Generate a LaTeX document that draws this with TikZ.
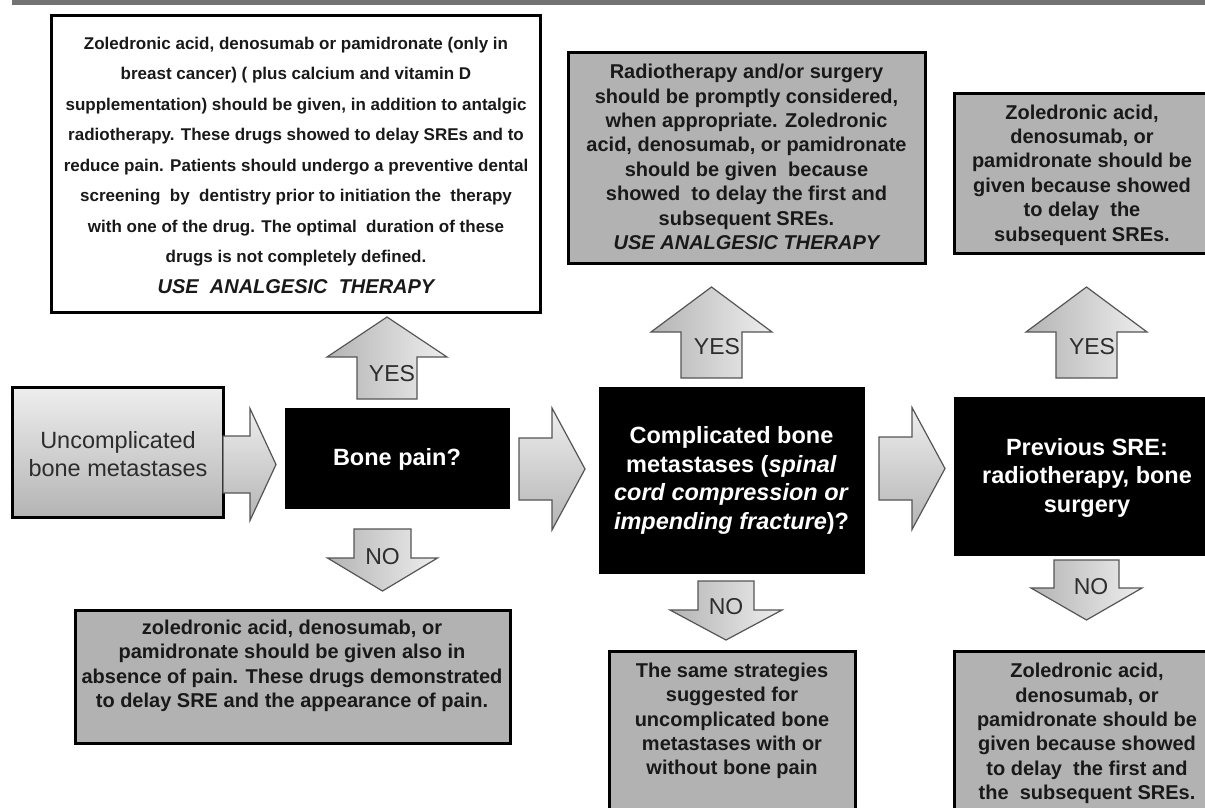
\documentclass[tikz,border=0pt]{standalone}
\usepackage{fontspec}
\setmainfont{Liberation Sans}
\usetikzlibrary{fit}
\definecolor{boxgray}{RGB}{178,178,178}
\definecolor{barcol}{RGB}{115,115,115}
\definecolor{arrline}{RGB}{85,85,85}
\definecolor{arrlight}{RGB}{238,238,238}
\definecolor{arrdark}{RGB}{180,180,180}
\definecolor{txtdark}{RGB}{25,25,25}
\definecolor{txtmid}{RGB}{45,45,45}
% vertical block arrow: x, y shaft end, y head base, y tip, half shaft, half head
\newcommand{\VBlock}[6]{\draw[blockarrow,left color=arrdark,right color=arrlight] (#1-#5,#2) -- (#1-#5,#3) -- (#1-#6,#3) -- (#1,#4) -- (#1+#6,#3) -- (#1+#5,#3) -- (#1+#5,#2) -- cycle;}
% horizontal block arrow: y, x shaft start, x head base, x tip, half shaft, half head
\newcommand{\HBlock}[6]{\draw[blockarrow,top color=arrlight,bottom color=arrdark] (#2,#1-#5) -- (#3,#1-#5) -- (#3,#1-#6) -- (#4,#1) -- (#3,#1+#6) -- (#3,#1+#5) -- (#2,#1+#5) -- cycle;}
\begin{document}
\begin{tikzpicture}[x=1pt,y=-1pt,
  box/.style={draw=black,line width=3pt,inner sep=0pt},
  graybox/.style={box,fill=boxgray},
  blackbox/.style={fill=black,draw=black,line width=1pt,inner sep=0pt},
  blockarrow/.style={draw=arrline,line width=1.2pt,line join=miter},
  smalltxt/.style={inner sep=0pt,align=center,text=txtdark,font=\bfseries\fontsize{17}{30.5}\selectfont},
  boxtxt/.style={inner sep=0pt,align=center,text=txtdark,font=\bfseries\fontsize{20}{24.4}\selectfont},
  whitetxt/.style={inner sep=0pt,align=center,text=white,font=\bfseries\fontsize{23.5}{28.5}\selectfont},
  lbl/.style={inner sep=0pt,text=txtmid,font=\fontsize{23}{23}\selectfont}]
\useasboundingbox (0,0) rectangle (1205,807);
\fill[white] (0,0) rectangle (1205,807);
\fill[barcol] (12,0) rectangle (1205,5);

% ---------- top boxes ----------
\node[box,fill=white,fit={(51,15)(540,312)}] (yes1box) {};
\node[smalltxt] (yes1txt) at (296,165) {Zoledronic acid, denosumab or pamidronate (only in\\
breast cancer) ( plus calcium and vitamin D\\
supplementation) should be given, in addition to antalgic\\
radiotherapy. These drugs showed to delay SREs and to\\
reduce pain. Patients should undergo a preventive dental\\
screening\ \ by\ \ dentistry prior to initiation the\ \ therapy\\
with one of the drug. The optimal\ \ duration of these\\
drugs is not completely defined.\\
{\fontsize{20}{24}\selectfont\itshape USE\ \ ANALGESIC\ \ THERAPY}};

\node[graybox,fit={(568,52)(925,263)}] (yes2box) {};
\node[boxtxt] (yes2txt) at (746.5,157) {Radiotherapy and/or surgery\\
should be promptly considered,\\
when appropriate. Zoledronic\\
acid, denosumab, or pamidronate\\
should be given\ \ because\\
showed\ \ to delay the first and\\
subsequent SREs.\\
\itshape USE ANALGESIC THERAPY};

\node[graybox,fit={(954,93)(1220,253)}] (yes3box) {};
\node[boxtxt] (yes3txt) at (1082,175) {Zoledronic acid,\\
denosumab, or\\
pamidronate should be\\
given because showed\\
to delay\ \ the\\
subsequent SREs.};

% ---------- middle row ----------
\node[box,top color=arrlight,bottom color=arrdark,fit={(12,387)(223,517)}] (unc) {};
\node[inner sep=0pt,align=center,text=txtmid,font=\fontsize{23.5}{28}\selectfont] (unctxt) at (118,454) {Uncomplicated\\bone metastases};

\node[blackbox,fit={(285,408)(509,508)}] (bone) {};
\node[whitetxt] (bonetxt) at (397,459) {Bone pain?};

\node[blackbox,fit={(599,387)(864,573)}] (comp) {};
\node[whitetxt] (comptxt) at (731.5,480.5) {Complicated bone\\
metastases (\textit{spinal}\\
\textit{cord compression or}\\
\textit{impending fracture})?};

\node[blackbox,fit={(954,397)(1220,555)}] (prev) {};
\node[whitetxt] (prevtxt) at (1087,477.5) {Previous SRE:\\radiotherapy, bone\\surgery};

% ---------- horizontal block arrows ----------
\HBlock{464.5}{223}{250}{276}{28.5}{56}
\HBlock{469}{519}{552}{585}{31}{61}
\HBlock{468.5}{879}{912}{945}{31.5}{61}

% ---------- vertical block arrows ----------
\VBlock{387}{399}{357}{317}{30}{60}
\node[lbl] (yes1) at (392,374) {YES};
\VBlock{711.5}{378}{332}{287}{30.5}{60.5}
\node[lbl] (yes2) at (717,347) {YES};
\VBlock{1086.5}{378}{332}{287}{30.5}{60.5}
\node[lbl] (yes3) at (1092,347) {YES};

\VBlock{382.5}{529}{558}{591}{28.5}{55}
\node[lbl] (no1) at (382.5,557) {NO};
\VBlock{726}{581}{610}{640}{28}{56}
\node[lbl] (no2) at (726,607) {NO};
\VBlock{1086.5}{560}{588}{620}{32.5}{55.5}
\node[lbl] (no3) at (1091,587) {NO};

% ---------- bottom boxes ----------
\node[graybox,fit={(75,610)(510,743)}] (no1box) {};
\node[boxtxt] (no1txt) at (292,666) {zoledronic acid, denosumab, or\\
pamidronate should be given also in\\
absence of pain. These drugs demonstrated\\
to delay SRE and the appearance of pain.};

\node[graybox,fit={(609,651)(855,830)}] (no2box) {};
\node[boxtxt] (no2txt) at (732,721) {The same strategies\\
suggested for\\
uncomplicated bone\\
metastases with or\\
without bone pain};

\node[graybox,fit={(954,651)(1220,830)}] (no3box) {};
\node[boxtxt] (no3txt) at (1087,733.5) {Zoledronic acid,\\
denosumab, or\\
pamidronate should be\\
given because showed\\
to delay\ \ the first and\\
the\ \ subsequent SREs.};
\end{tikzpicture}
\end{document}
